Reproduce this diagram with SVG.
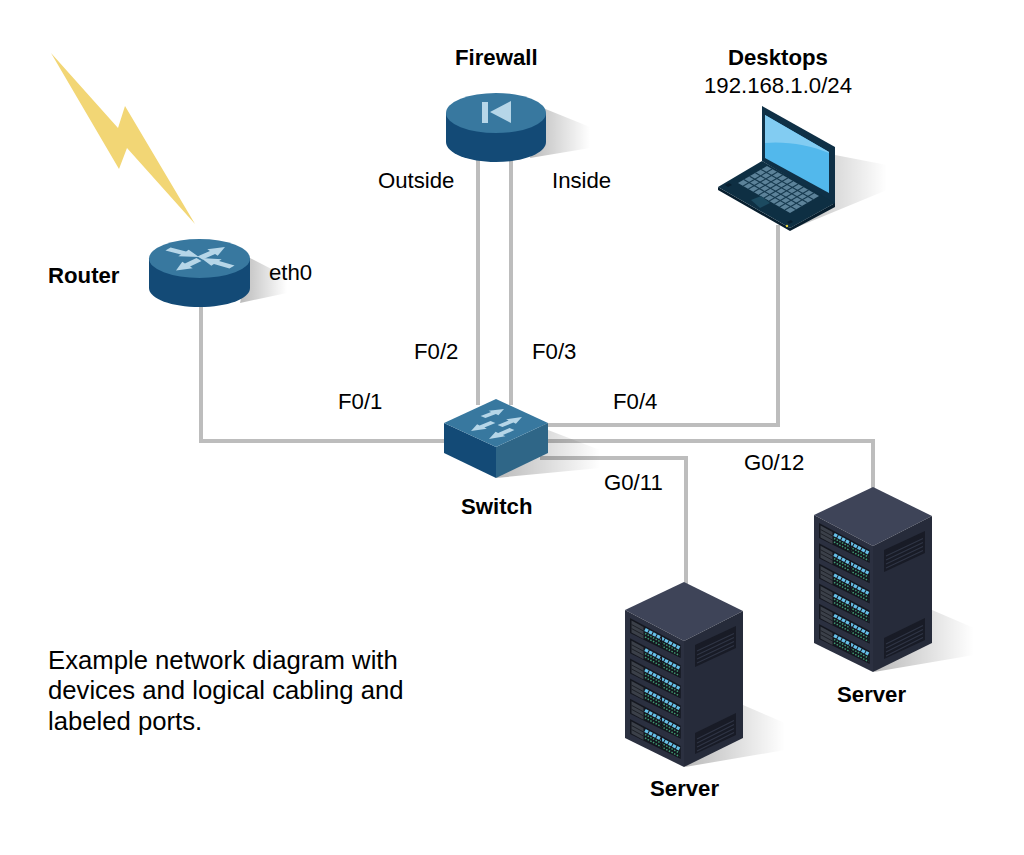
<svg xmlns="http://www.w3.org/2000/svg" xmlns:xlink="http://www.w3.org/1999/xlink" width="1024" height="855" viewBox="0 0 1024 855">
<style>
text{font-family:"Liberation Sans",Arial,sans-serif;font-size:22.200px;fill:#000}
.b{font-weight:700}
.p{font-size:25.700px}
.c{fill:none;stroke:#bdbdbd;stroke-width:4}
.top{fill:#38789f}.side{fill:#134a76}.ar{fill:#b6d6e8}
.g{stroke:#173a4f;stroke-width:1.100;fill:none;vector-effect:non-scaling-stroke}
</style>
<defs>
<linearGradient id="sh" x1="0" y1="0" x2="1" y2="0"><stop offset="0" stop-color="#000" stop-opacity=".27"/><stop offset="1" stop-color="#000" stop-opacity="0"/></linearGradient>
<path id="arrow" d="M0 -3.200 L10 -3.200 L10 -6.500 L20 0 L10 6.500 L10 3.200 L0 3.200Z"/>
<g id="unit">
<path d="M630 618 L680.700 645 V658 L630 633Z" fill="#14171f"/>
<path d="M631.500 620.500 L643.500 627 V639 L631.500 632.500Z" fill="#3b4049"/>
<path d="M631.500 624.500 L643.500 631 M631.500 628.500 L643.500 635" stroke="#1d2027" stroke-width="1" fill="none"/>
<path d="M645 629.500 L679.500 648" stroke="#66c0e8" stroke-width="3.200" stroke-dasharray="3.500 1" fill="none"/>
<path d="M645 633.500 L679.500 652 M645 637 L679.500 655.500" stroke="#3f9a72" stroke-width="1.500" stroke-dasharray="1.500 1.500" fill="none"/>
<path d="M661.500 635 V647" stroke="#14171f" stroke-width="1.200" fill="none"/>
</g>
<g id="rack">
<path d="M684 582 L743 611 L684 641 L625 610Z" fill="#3e4458"/>
<path d="M625 610 L684 641 V767 L625 738Z" fill="#2b3040"/>
<path d="M684 641 L743 611 V738 L684 767Z" fill="#262b3a"/>
<use xlink:href="#unit"/>
<use xlink:href="#unit" y="20.200"/>
<use xlink:href="#unit" y="40.400"/>
<use xlink:href="#unit" y="60.600"/>
<use xlink:href="#unit" y="80.800"/>
<use xlink:href="#unit" y="101"/>
<path d="M695 645 L736 626 V648 L695 667Z" fill="#181b26"/>
<path d="M695 733 L736 713 V735 L695 754Z" fill="#181b26"/>
<path d="M697 651 L734 633.500 M697 655 L734 637.500 M697 659 L734 641.500 M697 663 L734 645.500 M697 739 L734 720.500 M697 743 L734 724.500 M697 747 L734 728.500 M697 751 L734 732.500" stroke="#2f3545" stroke-width="1.200" fill="none"/>
</g>
</defs>
<rect width="1024" height="855" fill="#fff"/>
<g id="connectors">
<path class="c" d="M201 300 V441 H450"/>
<path class="c" d="M478 155 V405"/>
<path class="c" d="M511 155 V405"/>
<path class="c" d="M778 225 V425 H540"/>
<path class="c" d="M873 490 V441 H540"/>
<path class="c" d="M686 585 V458 H540"/>
</g>
<g id="lightning"><path d="M51 53 L118 128 L125 106 L195 224 L127 148 L119 169Z" fill="#f2d675"/></g>
<g id="router">
<path d="M250 258 L287 277 V293 L240 303Z" fill="url(#sh)"/>
<path class="side" d="M149 258 V288 C149 299 172 307 199.500 307 S250 299 250 288 V258Z"/>
<ellipse class="top" cx="199.500" cy="258.500" rx="50.500" ry="19.500"/>
<g class="ar">
<use xlink:href="#arrow" transform="matrix(1.550 .4 -.8 .5 168 249)"/>
<use xlink:href="#arrow" transform="matrix(1.250 -.55 .8 .5 200 258)"/>
<use xlink:href="#arrow" transform="matrix(-1.150 .55 .8 .5 199 259.500)"/>
<use xlink:href="#arrow" transform="matrix(-1.550 -.45 .8 -.5 232 267)"/>
</g>
</g>
<g id="firewall">
<path d="M543 108 L590 127 V148 L530 158Z" fill="url(#sh)"/>
<path class="side" d="M446 113 V142 C446 153 468 162 496 162 S546 153 546 142 V113Z"/>
<ellipse class="top" cx="496" cy="113" rx="50" ry="20"/>
<path class="ar" d="M482 102 H488 V123 H482Z M511 101 V123 L490 112Z"/>
</g>
<g id="laptop">
<path d="M835 155 L887 165 V190 L790 230Z" fill="url(#sh)"/>
<path d="M762 106 L835 147 V205 L762 161Z" fill="#0f3046"/>
<path d="M765 115 L829 152 V193 L765 158Z" fill="#52b8ec"/>
<path d="M765 115 L829 152 V153 C810 145 785 141 765 143Z" fill="#82ccf2"/>
<path d="M718 187 L718 190 L790 231 L835 207 V203 L790 228Z" fill="#071e2e"/>
<path d="M718 187 L762 161 L835 203 L790 228Z" fill="#0e2f43"/>
<path d="M738 183 L767 166 L819 196 L790 213Z" fill="#5c8299"/>
<g transform="matrix(5.200 3 5.800 -3.400 738 183)">
<path class="g" d="M1 0V5M2 0V5M3 0V5M4 0V5M5 0V5M6 0V5M7 0V5M8 0V5M9 0V5M0 1H10M0 2H10M0 3H10M0 4H10"/>
</g>
<path d="M751 200 L761 196 L770 203 L760 208Z" fill="#1c4a60"/>
<path d="M725 185 L729 183 L732 185 L728 187Z M787 222 L791 220 L793 222 L789 224Z" fill="#071e2e"/>
<circle cx="787" cy="226" r="1.200" fill="#e6d43a"/>
</g>
<g id="switch">
<path d="M548 430 L600 450 V468 L496 478Z" fill="url(#sh)"/>
<path class="side" d="M444 423 L496 447 V478 L444 453Z"/>
<path d="M496 447 L548 423 V453 L496 478Z" fill="#2f6687"/>
<path class="top" d="M496 399 L548 423 L496 447 L444 423Z"/>
<g class="ar">
<use xlink:href="#arrow" transform="matrix(1.050 -.4 .75 .35 483 417)"/>
<use xlink:href="#arrow" transform="matrix(-1.100 .45 .75 .35 493 422)"/>
<use xlink:href="#arrow" transform="matrix(1.100 -.45 .75 .35 500 426)"/>
<use xlink:href="#arrow" transform="matrix(-1.150 .5 .75 .35 512 429)"/>
</g>
</g>
<g id="server1"><path d="M743 705 L785 723 V750 L685 767Z" fill="url(#sh)"/><use xlink:href="#rack"/></g>
<g id="server2"><path d="M932 610 L974 628 V655 L874 672Z" fill="url(#sh)"/><use xlink:href="#rack" x="189" y="-95"/></g>
<g id="labels">
<text class="b" x="455" y="65">Firewall</text>
<text class="b" x="728" y="65">Desktops</text>
<text x="704" y="93">192.168.1.0/24</text>
<text class="b" x="48" y="283">Router</text>
<text x="269" y="280">eth0</text>
<text x="378" y="188">Outside</text>
<text x="552" y="188">Inside</text>
<text x="414" y="359">F0/2</text>
<text x="532" y="359">F0/3</text>
<text x="338" y="409">F0/1</text>
<text x="613" y="409">F0/4</text>
<text x="744" y="470">G0/12</text>
<text x="604" y="490">G0/11</text>
<text class="b" x="461" y="514">Switch</text>
<text class="b" x="837" y="702">Server</text>
<text class="b" x="650" y="796">Server</text>
<text class="p" x="48" y="669">Example network diagram with</text>
<text class="p" x="48" y="699">devices and logical cabling and</text>
<text class="p" x="48" y="730">labeled ports.</text>
</g>
</svg>
